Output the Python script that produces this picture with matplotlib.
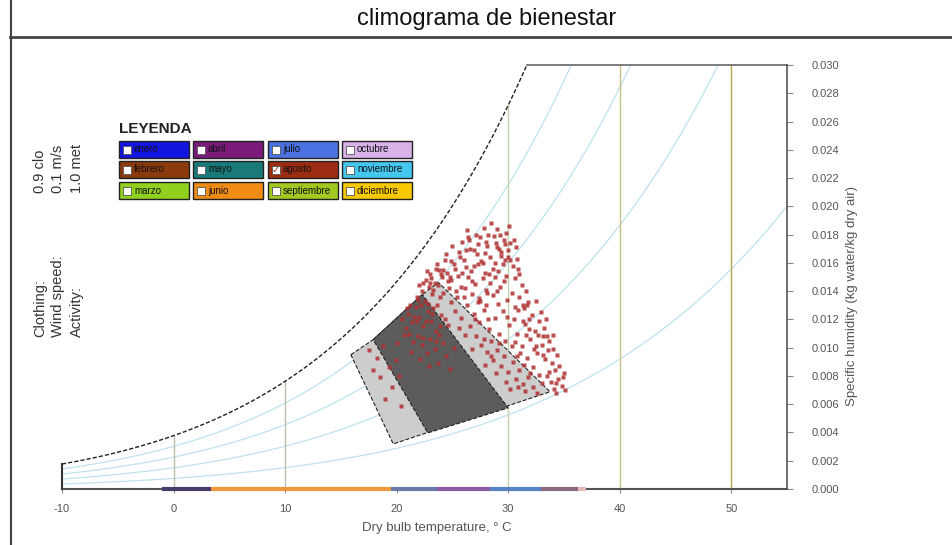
import numpy as np
import matplotlib
matplotlib.use("Agg")
import matplotlib.pyplot as plt
from matplotlib.patches import Polygon, Rectangle

plt.rcParams['font.family'] = ['Liberation Sans', 'DejaVu Sans']

# chart grid
rh_levels = [20, 40, 60, 80]                      # relative humidity curves, %
isotherms = [0, 10, 30, 40, 50]                   # dry bulb lines, C
isotherm_colors = ['#b9c1ad', '#b9c1ad', '#c5d0b0', '#c4c088', '#b8a845']
x_ticks = [-10, 0, 10, 20, 30, 40, 50]
y_ticks = [0.000, 0.002, 0.004, 0.006, 0.008, 0.010, 0.012, 0.014,
           0.016, 0.018, 0.020, 0.022, 0.024, 0.026, 0.028, 0.030]

# comfort zones (T in C, W in g/kg)
zone_T = [15.9, 17.9, 22.3, 23.75, 33.75, 19.7]
zone_W = [9.5, 10.57, 13.76, 14.61, 6.88, 3.19]
core_T = [17.9, 22.3, 30.0, 22.8]
core_W = [10.57, 13.76, 5.74, 3.97]

# legend
months = ['enero', 'febrero', 'marzo', 'abril', 'mayo', 'junio',
          'julio', 'agosto', 'septiembre', 'octubre', 'noviembre', 'diciembre']
month_colors = ['#1414e0', '#8a3a0c', '#92d020', '#7c1a7c', '#1a7a7a', '#f08c14',
                '#4a72e0', '#9c2c12', '#a2c822', '#d8b2e8', '#44c8f0', '#f8c800']
checked = ['agosto']

# dry bulb strip along the axis
strip_start = [-1.0, 3.4, 19.5, 23.6, 28.4, 32.9, 36.3]
strip_end = [3.4, 19.5, 23.6, 28.4, 32.9, 36.3, 37.0]
strip_color = ['#4a3c6a', '#f0963c', '#6a7aa8', '#8a5aa0', '#5a82c8', '#8a6a80', '#e8b8b8']

# August hourly points (T in C, W in g/kg)
ago_T = [22.6, 23.0, 23.4, 23.8, 24.1, 22.9, 23.6, 24.5, 24.9, 25.2, 25.6, 25.9, 26.3, 26.0,
         26.6, 26.9, 27.2, 27.5, 27.8, 28.1, 28.4, 28.7, 29.0, 29.2, 29.4, 29.6, 29.8, 30.0,
         30.2, 29.5, 29.1, 28.8, 28.3, 27.7, 27.0, 26.4, 25.8, 25.3, 24.7, 24.2, 23.9, 26.8,
         27.4, 28.0, 28.6, 29.3, 30.4, 30.6, 30.8, 31.0, 31.2, 30.3, 29.9, 25.0, 24.4, 26.2,
         27.9, 28.9, 30.1, 29.7, 22.3, 21.8, 22.0, 23.2, 24.8, 26.7, 28.2, 27.3, 25.5, 30.7,
         31.0, 31.4, 31.8, 32.1, 31.5, 32.4, 32.0, 32.7, 33.0, 32.6, 33.3, 33.6, 33.9, 34.2,
         33.5, 34.5, 34.8, 34.1, 35.0, 33.0, 32.2, 31.7, 31.2, 30.8, 30.5, 31.9, 32.9, 33.2,
         33.7, 34.4, 34.0, 32.5, 31.6, 30.9, 33.8, 34.6, 32.8, 31.4, 35.1, 34.3, 33.4, 32.3,
         31.1, 30.6, 33.1,
         25.2, 25.8, 26.3, 26.9, 27.4, 27.8, 28.3, 28.8, 29.2, 29.7, 30.1, 29.5, 26.6, 27.1,
         27.6, 28.1, 28.6, 29.0, 29.4, 30.0, 30.4, 30.7, 31.3, 31.8, 32.2, 29.8, 28.9, 27.9,
         26.8, 26.1, 25.6, 28.5, 27.3, 28.0, 29.1, 26.0, 24.9, 30.3, 31.0, 29.6, 28.2, 27.0,
         30.8, 31.5, 32.6,
         21.0, 21.4, 21.7, 22.0, 22.4, 22.8, 23.1, 23.5, 21.9, 22.3, 22.7, 23.0, 23.4, 23.8,
         24.2, 24.6, 24.0, 23.6, 22.5, 21.2, 20.8, 21.5, 22.1, 22.9, 23.7, 24.4, 24.8, 25.1,
         21.3, 20.5,
         17.5, 18.2, 18.8, 19.3, 19.9, 18.5, 19.6, 20.2, 19.0, 20.4, 17.9, 20.0,
         26.5, 27.1, 27.6, 28.0, 28.5, 29.0, 29.3, 29.7, 30.0, 29.4, 28.6, 27.9, 27.3, 26.9,
         26.2, 25.7, 25.1, 24.6, 24.0, 23.5, 23.1, 22.7, 22.4, 23.3, 23.7, 24.3, 28.4, 29.8,
         30.2, 30.5, 29.0, 28.1, 27.5, 26.8, 26.1, 25.4, 24.9, 30.9, 31.3, 29.6, 28.8, 27.7,
         26.4, 25.9, 24.2, 23.0,
         31.9, 32.5, 33.1, 33.7, 34.3, 34.9, 32.0, 31.3, 30.6, 29.9, 29.2, 28.5, 27.8, 30.2,
         31.6, 32.8, 33.5, 34.0, 30.9, 31.7,
         20.9, 21.6, 22.2, 22.6, 23.2, 23.9, 24.3, 21.1, 21.8, 22.4, 23.3, 20.7, 21.9, 22.8,
         23.5]
ago_W = [14.8, 15.2, 14.6, 15.5, 15.0, 14.3, 15.9, 15.3, 16.1, 15.6, 16.8, 17.5, 18.3, 16.2,
         17.0, 15.8, 16.6, 17.8, 18.5, 17.2, 16.4, 17.9, 18.4, 17.0, 16.5, 17.6, 18.1, 16.9,
         17.4, 15.9, 15.4, 16.0, 15.2, 14.9, 14.5, 15.0, 14.3, 14.0, 14.2, 13.9, 13.6, 13.8,
         13.5, 14.1, 13.7, 14.3, 15.8, 14.9, 16.3, 15.2, 14.4, 13.9, 13.4, 17.2, 16.6, 16.9,
         16.7, 17.4, 18.6, 16.2, 14.0, 13.6, 14.4, 13.8, 15.0, 15.4, 18.0, 17.3, 15.1, 17.1,
         13.6, 12.8, 13.2, 12.3, 11.7, 11.2, 10.6, 10.9, 10.2, 9.6, 9.2, 9.8, 8.9, 8.4,
         8.0, 7.8, 7.3, 7.1, 8.2, 7.5, 8.6, 9.3, 10.1, 11.0, 12.0, 12.0, 12.5, 11.4,
         10.5, 9.5, 10.9, 13.3, 14.0, 12.7, 7.6, 8.7, 8.1, 8.8, 7.0, 6.8, 12.0, 9.9,
         9.6, 10.4, 10.8,
         12.6, 12.1, 13.0, 12.4, 11.8, 12.7, 11.3, 12.1, 11.0, 10.5, 11.6, 12.6, 11.5, 10.8,
         10.2, 9.7, 9.1, 9.8, 8.7, 8.3, 9.0, 7.8, 7.4, 7.9, 7.2, 7.6, 8.2, 8.8,
         9.9, 10.9, 11.4, 10.5, 13.2, 13.0, 13.1, 13.6, 13.2, 10.1, 8.4, 9.4, 12.0, 12.0,
         9.4, 6.9, 6.8,
         12.4, 11.8, 12.9, 12.2, 11.5, 12.6, 11.9, 11.2, 10.8, 10.2, 9.6, 10.6, 9.9, 10.9,
         10.3, 11.6, 12.3, 13.0, 13.3, 13.0, 11.4, 10.4, 9.2, 8.7, 8.9, 9.4, 8.5, 10.0,
         9.7, 12.0,
         9.8, 9.3, 10.1, 8.6, 9.1, 7.9, 7.2, 8.0, 6.4, 5.9, 8.4, 10.3,
         17.6, 18.0, 16.1, 17.5, 18.8, 17.1, 18.0, 17.3, 16.4, 16.8, 15.6, 15.3, 15.9, 16.9,
         15.7, 16.4, 15.9, 14.7, 15.2, 15.6, 14.9, 15.4, 14.6, 14.1, 14.4, 16.2, 14.6, 15.1,
         16.2, 17.6, 14.0, 13.9, 13.3, 14.7, 14.2, 13.6, 14.8, 15.6, 13.0, 14.7, 15.0, 16.0,
         17.8, 15.3, 15.5, 14.6,
         11.3, 10.1, 9.5, 8.3, 7.5, 7.9, 8.2, 11.9, 12.9, 12.2, 10.3, 9.4, 10.6, 7.1,
         10.9, 11.9, 10.8, 9.9, 7.2, 13.0,
         12.8, 12.2, 13.0, 11.9, 12.4, 11.5, 12.0, 11.0, 11.9, 10.7, 12.8, 10.9, 13.4, 13.1,
         10.5]

P_ATM = 101.325


def w_at(t, phi=1.0):
    ps = 0.61094 * np.exp(17.625 * t / (t + 243.04))
    pv = phi * ps
    return 0.622 * pv / (P_ATM - pv)


W_TOP = 0.030
T_MIN, T_MAX = -10, 55

fig = plt.figure(figsize=(9.52, 5.45), dpi=100)
ax = fig.add_axes([62 / 952, 56 / 545, 725 / 952, 424 / 545])
ax.set_xlim(T_MIN, T_MAX)
ax.set_ylim(0, W_TOP)
for s in ax.spines.values():
    s.set_visible(False)

t = np.linspace(T_MIN, T_MAX, 600)

# relative humidity curves
for rh in rh_levels:
    ax.plot(t, w_at(t, rh / 100), color='#bfe2ee', lw=0.9, zorder=1)

# saturation curve + cap
pv_top = W_TOP * P_ATM / (0.622 + W_TOP)
t_top = 243.04 * np.log(pv_top / 0.61094) / (17.625 - np.log(pv_top / 0.61094))
ts = t[t <= t_top]
ax.plot(np.append(ts, t_top), np.append(w_at(ts), W_TOP), color='#222222', lw=1.0,
        ls=(0, (3, 1.5)), zorder=4)
ax.plot([t_top, T_MAX], [W_TOP, W_TOP], color='#666666', lw=1.2, clip_on=False, zorder=4)

# isotherms
for tv, c in zip(isotherms, isotherm_colors):
    ax.plot([tv, tv], [0, min(w_at(tv), W_TOP)], color=c, lw=1.0, zorder=1)

# comfort zones
ax.add_patch(Polygon(list(zip(zone_T, np.array(zone_W) / 1000)), closed=True,
                     fc='#cdcdcd', ec='#222222', ls='--', lw=0.8, zorder=2))
ax.add_patch(Polygon(list(zip(core_T, np.array(core_W) / 1000)), closed=True,
                     fc='#5c5c5c', ec='#222222', ls='--', lw=0.8, zorder=2))

# August data
ax.plot(ago_T, np.array(ago_W) / 1000, 's', ms=2.2, color='#b03030', alpha=0.85,
        mec='none', zorder=5)

# frame lines
ax.plot([T_MIN, T_MAX], [0, 0], color='#555555', lw=1.5, clip_on=False, zorder=4)
ax.plot([T_MIN, T_MIN], [0, w_at(T_MIN)], color='#333333', lw=1.5, clip_on=False, zorder=4)
ax.plot([T_MAX, T_MAX], [0, W_TOP], color='#555555', lw=1.2, clip_on=False, zorder=4)

# temperature strip
for s0, s1, c in zip(strip_start, strip_end, strip_color):
    ax.plot([s0, s1], [0, 0], color=c, lw=3, solid_capstyle='butt', clip_on=False, zorder=6)

ax.set_xticks(x_ticks)
ax.set_xticklabels([str(v) for v in x_ticks])
ax.set_yticks(y_ticks)
ax.set_yticklabels(['%.3f' % v for v in y_ticks])
ax.yaxis.tick_right()
ax.yaxis.set_label_position('right')
ax.tick_params(axis='x', length=3, color='#888888', labelsize=8, labelcolor='#555555', pad=8)
ax.tick_params(axis='y', length=4, color='#888888', labelsize=8, labelcolor='#555555', pad=14)
ax.set_xlabel('Dry bulb temperature, \u00b0 C', fontsize=9.5, color='#555555')
ax.xaxis.set_label_coords((437 - 62) / 725, -(522 - 489) / 424)
ax.set_ylabel('Specific humidity (kg water/kg dry air)', fontsize=9.5, color='#555555')
ax.yaxis.set_label_coords((846 - 62) / 725, (489 - 296) / 424)

# overlay in pixel coordinates
ov = fig.add_axes([0, 0, 1, 1], zorder=10)
ov.set_xlim(0, 952)
ov.set_ylim(545, 0)
ov.axis('off')
ov.patch.set_visible(False)

ov.plot([10, 952], [37, 37], color='#444444', lw=2)
ov.plot([11, 11], [0, 545], color='#444444', lw=1.5)
ov.text(487, 19, 'climograma de bienestar', ha='center', va='center', fontsize=17, color='#111111')

for xx, lab, val in zip([40, 58, 77], ['Clothing:', 'Wind speed:', 'Activity:'],
                        ['0.9 clo', '0.1 m/s', '1.0 met']):
    ov.text(xx, 337, lab, rotation=90, ha='center', va='bottom', fontsize=10.5, color='#333333')
    ov.text(xx, 193, val, rotation=90, ha='center', va='bottom', fontsize=10.5, color='#333333')

ov.text(119, 129, 'LEYENDA', fontweight='bold', fontsize=11, va='center', color='#222222')
col_x = [119, 193, 268, 342]
row_y = [141, 161, 182]
for i, (m, c) in enumerate(zip(months, month_colors)):
    x0, y0 = col_x[i // 3], row_y[i % 3]
    ov.add_patch(Rectangle((x0, y0), 70, 17, fc=c, ec='#222222', lw=1))
    ov.add_patch(Rectangle((x0 + 4, y0 + 4.5), 8, 8, fc='white', ec='#555555', lw=0.6))
    if m in checked:
        ov.text(x0 + 8, y0 + 8.5, '\u2713', family='DejaVu Sans', fontsize=7,
                ha='center', va='center', color='#9c2c12')
    ov.text(x0 + 15, y0 + 8.5, m, fontsize=7, va='center', color='#111111')

fig.savefig('out.png', dpi=100)
